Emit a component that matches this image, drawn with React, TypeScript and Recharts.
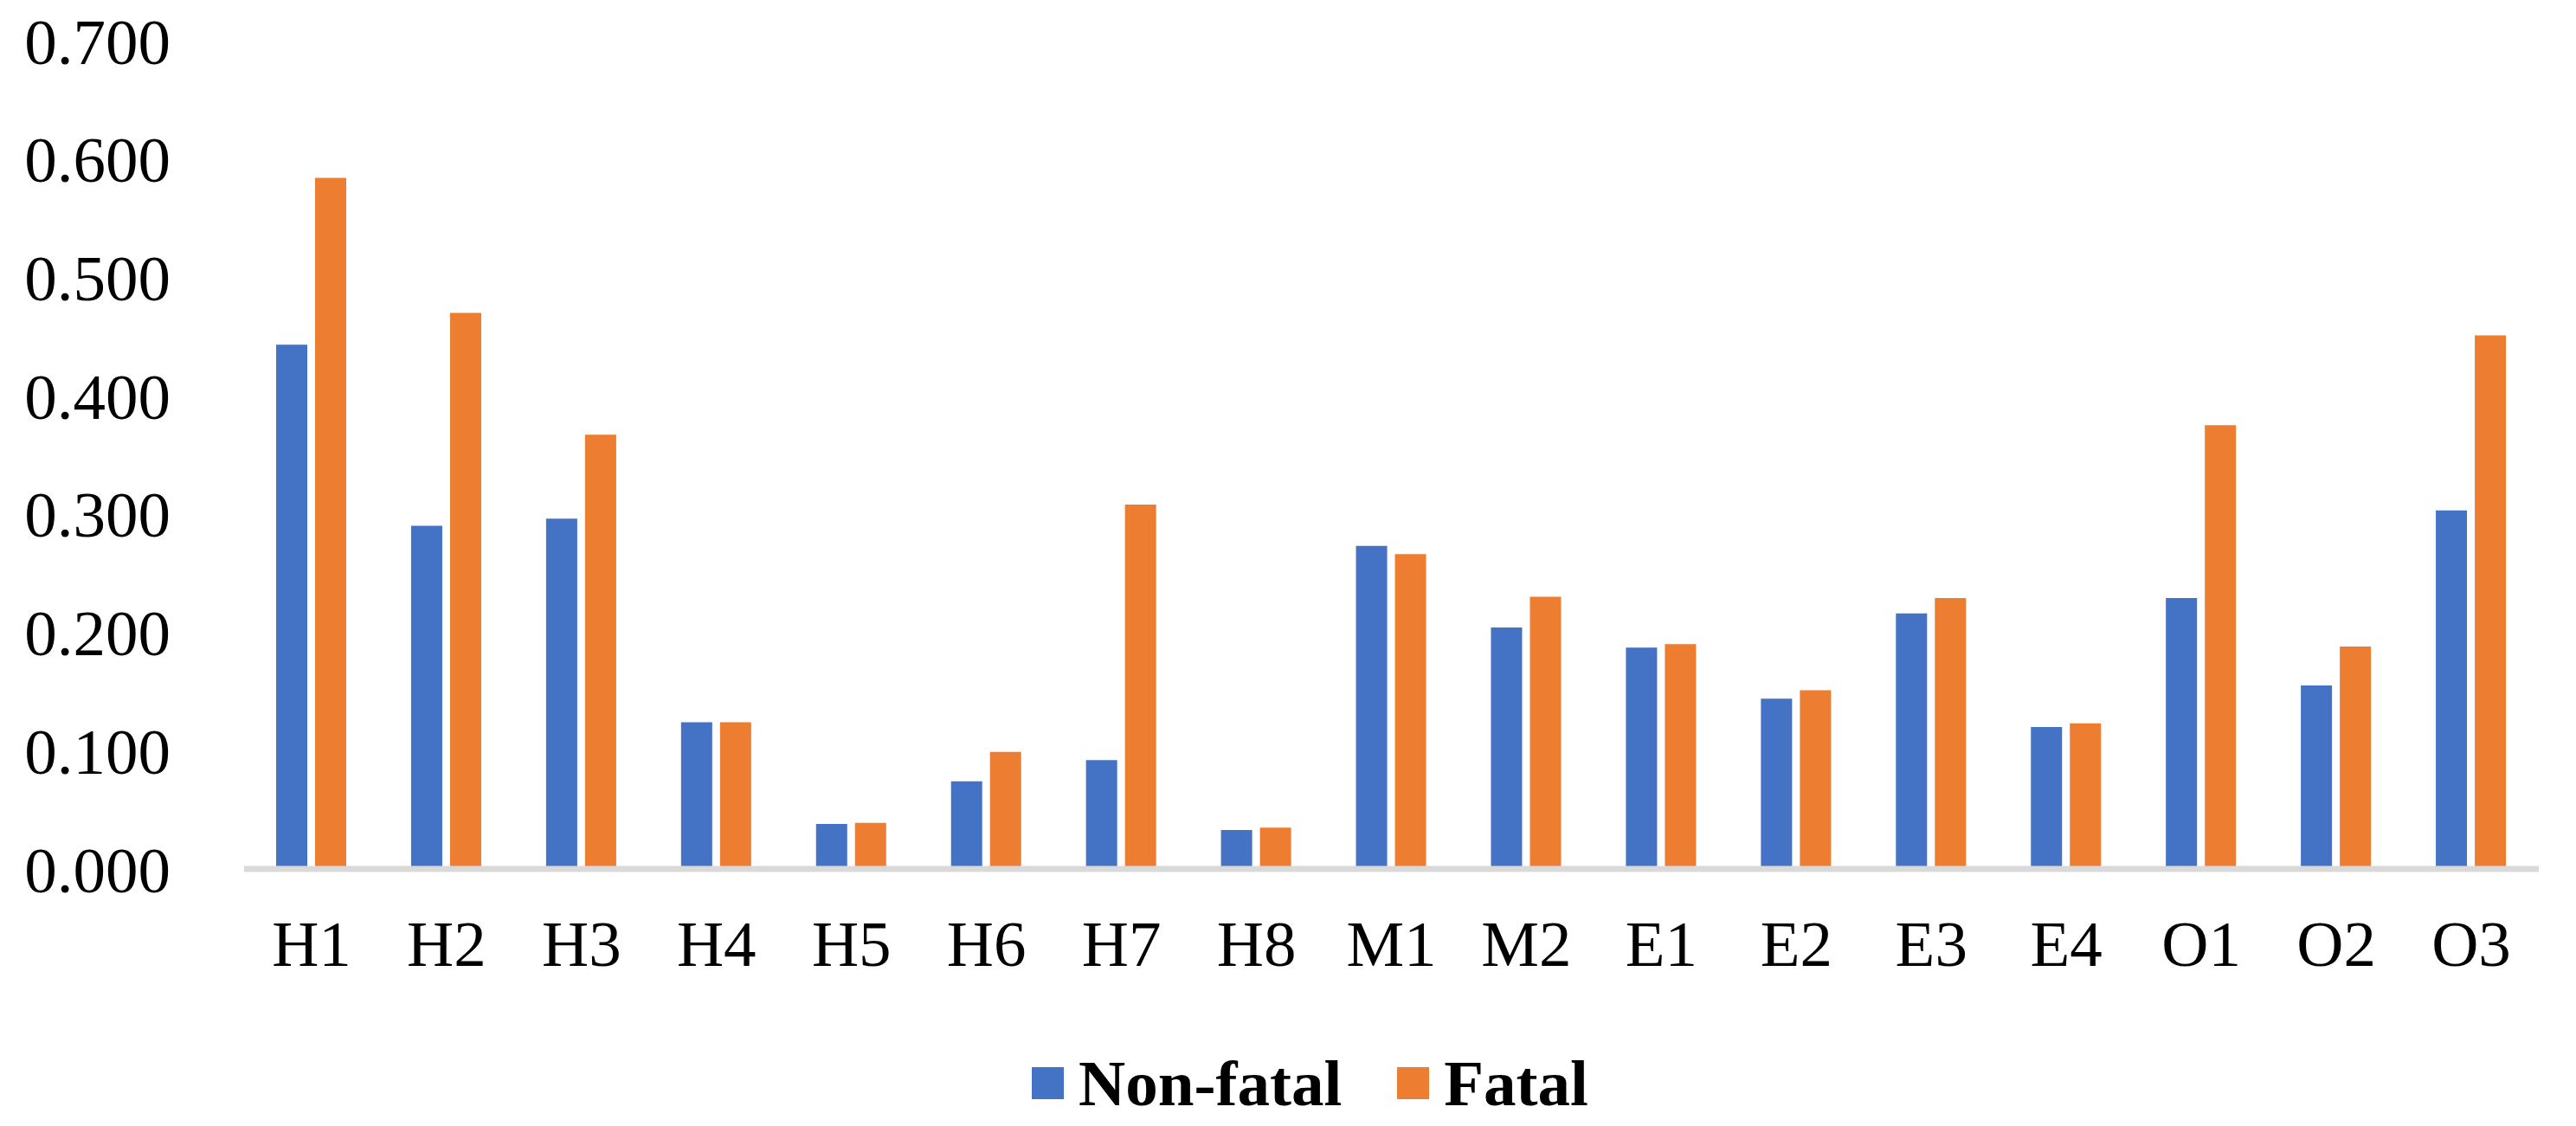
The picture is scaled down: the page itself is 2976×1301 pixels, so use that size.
import { Bar, BarChart, Legend, XAxis, YAxis } from "recharts";

const CATEGORIES = ["H1", "H2", "H3", "H4", "H5", "H6", "H7", "H8", "M1", "M2", "E1", "E2", "E3", "E4", "O1", "O2", "O3"];
const NON_FATAL = [0.443, 0.29, 0.296, 0.124, 0.038, 0.074, 0.092, 0.033, 0.273, 0.204, 0.187, 0.144, 0.216, 0.12, 0.229, 0.155, 0.303];
const FATAL = [0.584, 0.47, 0.367, 0.124, 0.039, 0.099, 0.308, 0.035, 0.266, 0.23, 0.19, 0.151, 0.229, 0.123, 0.375, 0.188, 0.451];
const Y_TICKS = [0, 0.1, 0.2, 0.3, 0.4, 0.5, 0.6, 0.7];
const LEGEND_ORDER = ["Non-fatal", "Fatal"];

const BLUE = "#4472C4";
const ORANGE = "#ED7D31";
const FONT = "'Liberation Serif', 'Times New Roman', serif";
const TICK_STYLE = { fill: "#000000", fontSize: 75, fontFamily: FONT };

document.body.style.margin = "0";

const data = CATEGORIES.map((name, i) => ({ name, nonFatal: NON_FATAL[i], fatal: FATAL[i] }));

function LegendContent({ payload }: { payload?: Array<{ value: string; color: string }> }) {
  // keep series order, recharts sorts legend items by name otherwise
  const items = [...(payload ?? [])].sort(
    (a, b) => LEGEND_ORDER.indexOf(a.value) - LEGEND_ORDER.indexOf(b.value),
  );

  return (
    <div
      style={{
        display: "flex",
        justifyContent: "center",
        alignItems: "center",
        paddingLeft: 51,
        fontFamily: FONT,
        fontWeight: "bold",
        fontSize: 75,
        lineHeight: 1,
        color: "#000000",
      }}
    >
      {items.map((entry, i) => (
        <span
          key={entry.value}
          style={{ display: "flex", alignItems: "center", marginRight: i === 0 ? 64 : 0 }}
        >
          <span style={{ width: 37, height: 37, backgroundColor: entry.color, marginRight: 17 }} />
          {entry.value}
        </span>
      ))}
    </div>
  );
}

export default function App() {
  return (
    <BarChart
      width={2976}
      height={1301}
      data={data}
      margin={{ top: 47, right: 43, left: 0, bottom: 177 }}
      barSize={36}
      barGap={9}
    >
      <YAxis
        domain={[0, 0.7]}
        ticks={Y_TICKS}
        tickFormatter={(v: number) => v.toFixed(3)}
        axisLine={false}
        tickLine={false}
        tick={TICK_STYLE}
        width={282}
        tickMargin={79}
      />
      <Bar dataKey="nonFatal" name="Non-fatal" fill={BLUE} isAnimationActive={false} />
      <Bar dataKey="fatal" name="Fatal" fill={ORANGE} isAnimationActive={false} />
      <XAxis
        dataKey="name"
        axisLine={{ stroke: "#D9D9D9", strokeWidth: 7 }}
        tickLine={false}
        tick={TICK_STYLE}
        tickMargin={53}
        height={120}
        interval={0}
      />
      <Legend
        layout="horizontal"
        verticalAlign="middle"
        align="center"
        wrapperStyle={{ top: 1214, left: 0, width: 2976 }}
        content={<LegendContent />}
      />
    </BarChart>
  );
}
